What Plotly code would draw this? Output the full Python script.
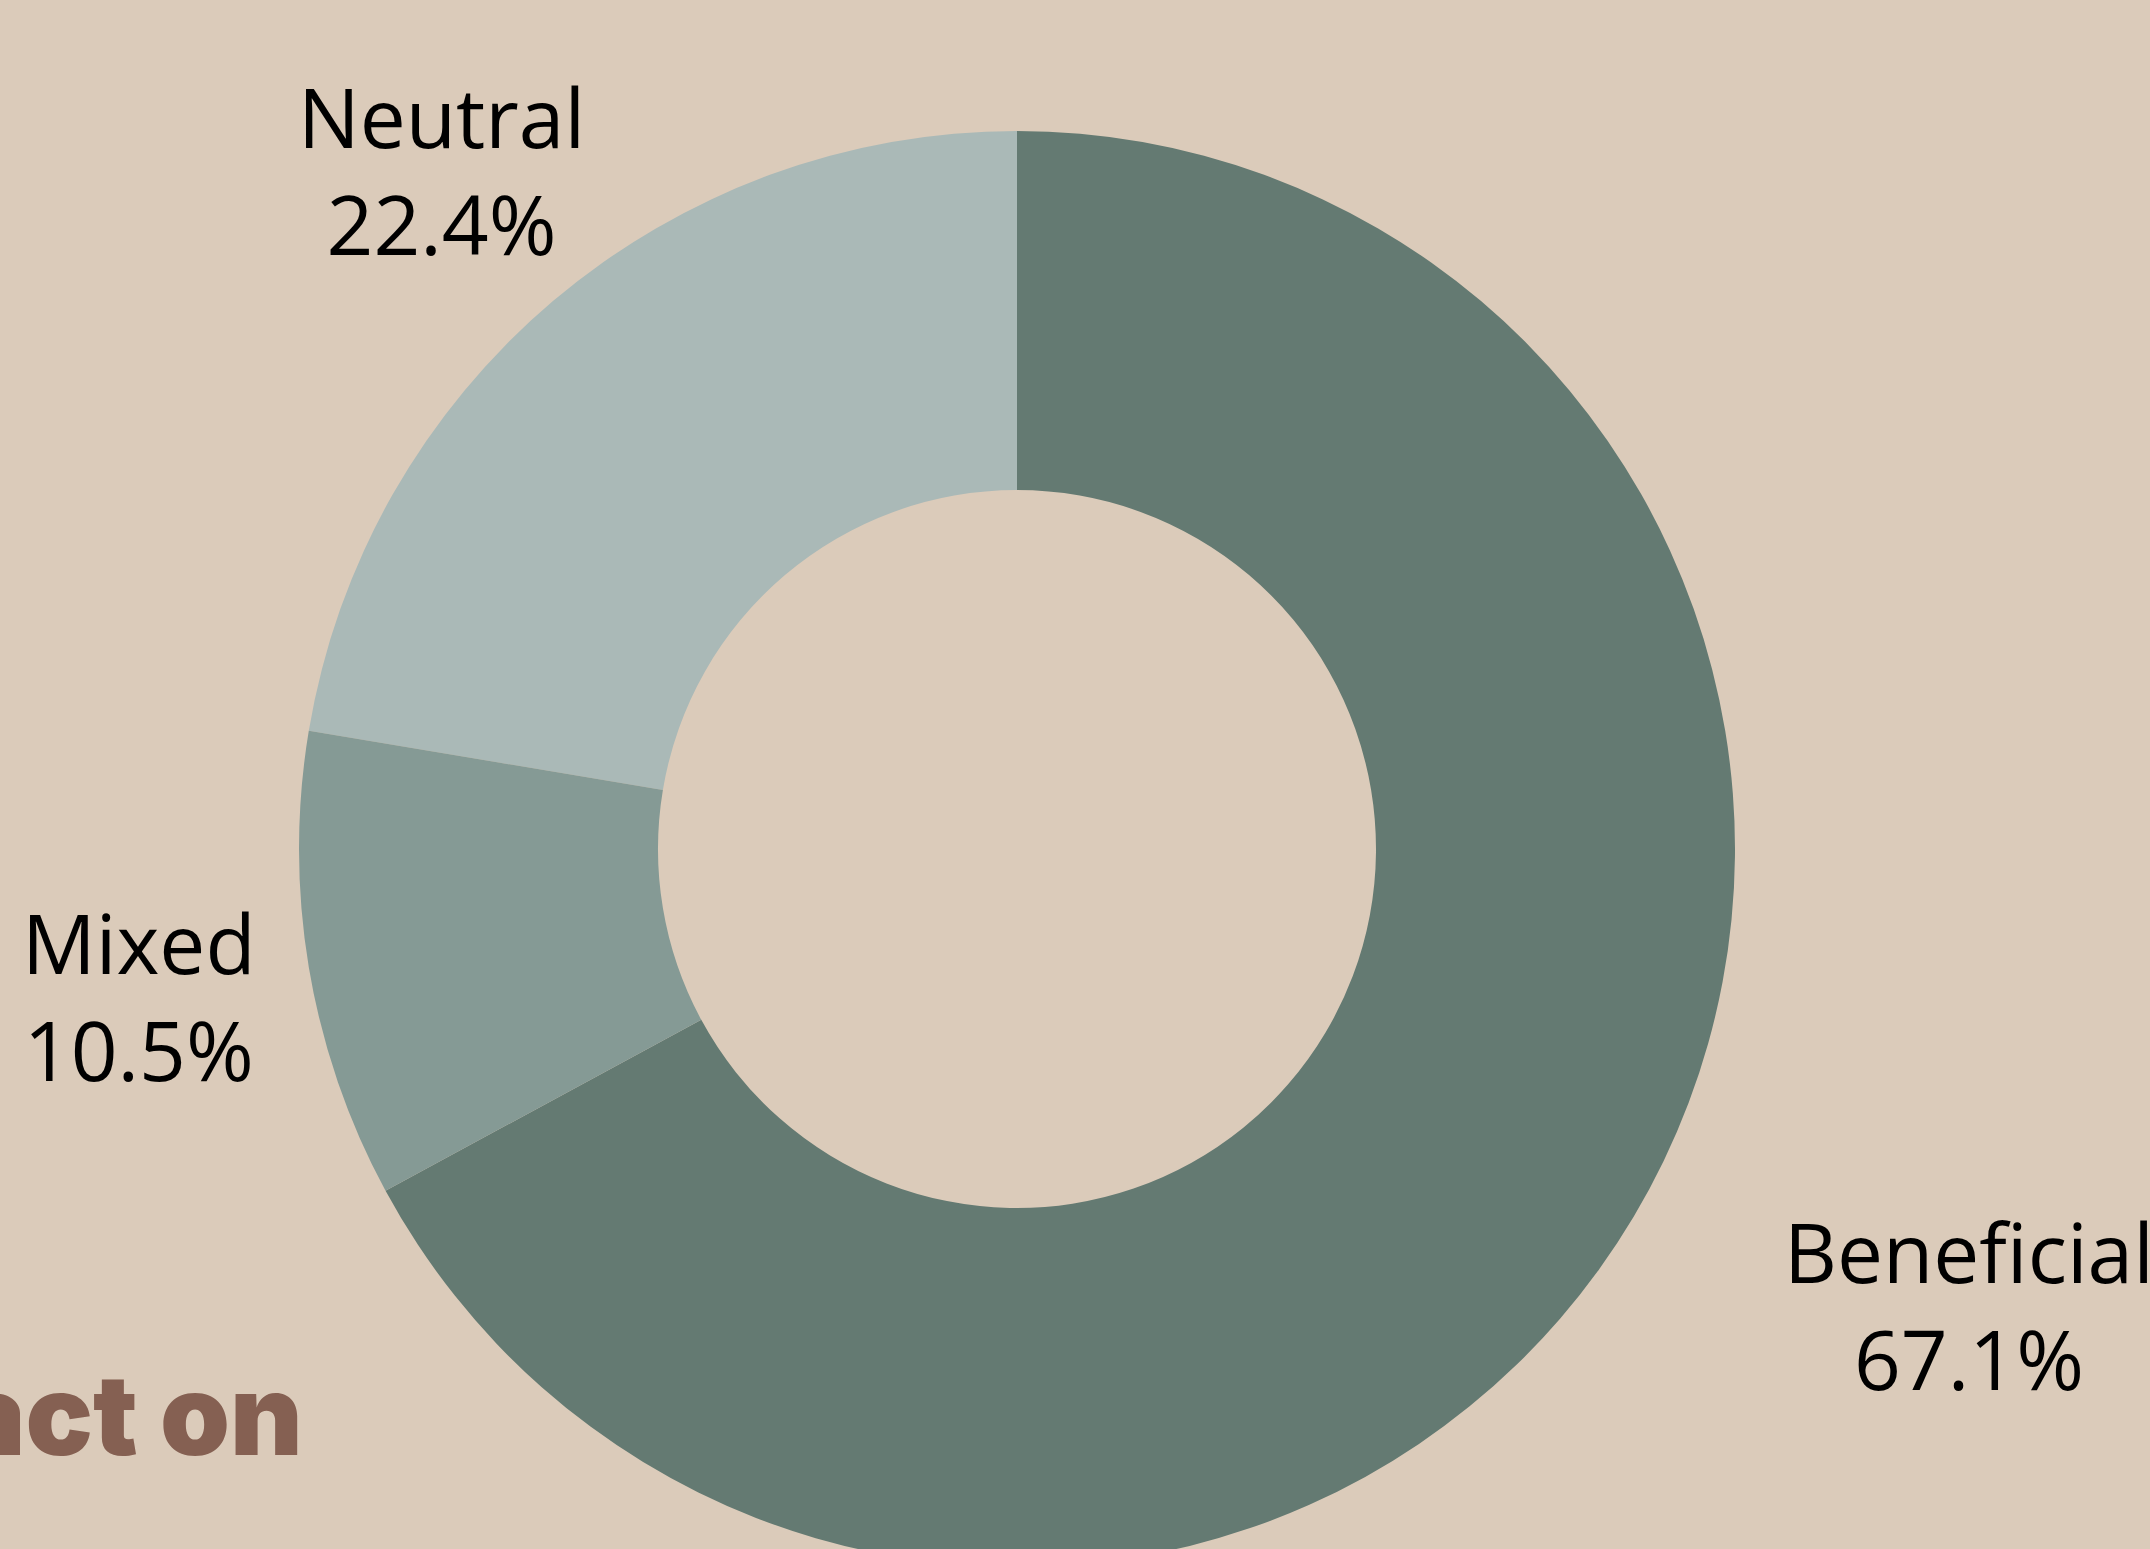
import math
import plotly.graph_objects as go

labels = ["Beneficial", "Neutral", "Mixed"]
values = [51, 17, 8]
colors = ["#647A72", "#AAB9B7", "#859A95"]
title_text = "Impact on"

BG = "#DBCBBA"
LABEL_R = 1.24  # label distance as a multiple of the outer radius

fig = go.Figure(
    go.Pie(
        labels=labels,
        values=values,
        hole=0.5,
        sort=True,
        direction="counterclockwise",
        marker=dict(colors=colors, line=dict(width=0)),
        textinfo="none",
        showlegend=False,
        hoverinfo="label+percent",
    )
)

# slice label positions derived from the data (same geometry as plotly's pie)
total = sum(values)
order = sorted(range(len(values)), key=lambda i: -values[i])
fracs = [values[i] / total for i in order]
start = 90.0 - fracs[0] * 360.0
for k, i in enumerate(order):
    f = fracs[k]
    mid = math.radians(start + f * 180.0)
    start += f * 360.0
    cx, cy = math.cos(mid), math.sin(mid)
    fig.add_annotation(
        text=f"{labels[i]}<br>{f:.1%}",
        xref="paper", yref="paper",
        x=0.5 + 0.5 * LABEL_R * cx,
        y=0.5 + 0.5 * LABEL_R * cy,
        xanchor="left" if cx > 0 else "center",
        yanchor="middle",
        showarrow=False,
        font=dict(family="Open Sans", size=82, color="#000000"),
    )

fig.add_annotation(
    text=title_text,
    xref="paper", yref="paper",
    x=0.004, y=0.1064,
    xanchor="right", yanchor="middle",
    showarrow=False,
    font=dict(family="Inter", size=112, color="#856052", weight=900),
)

fig.update_layout(
    width=2150,
    height=1600,
    margin=dict(l=299, r=415, t=131, b=33, autoexpand=False),
    paper_bgcolor=BG,
    plot_bgcolor=BG,
)

fig.write_html(
    "out.html",
    config={"displayModeBar": False},
    post_script="document.body.style.margin='0';document.body.style.overflow='hidden';document.body.style.background='#DBCBBA';",
)
